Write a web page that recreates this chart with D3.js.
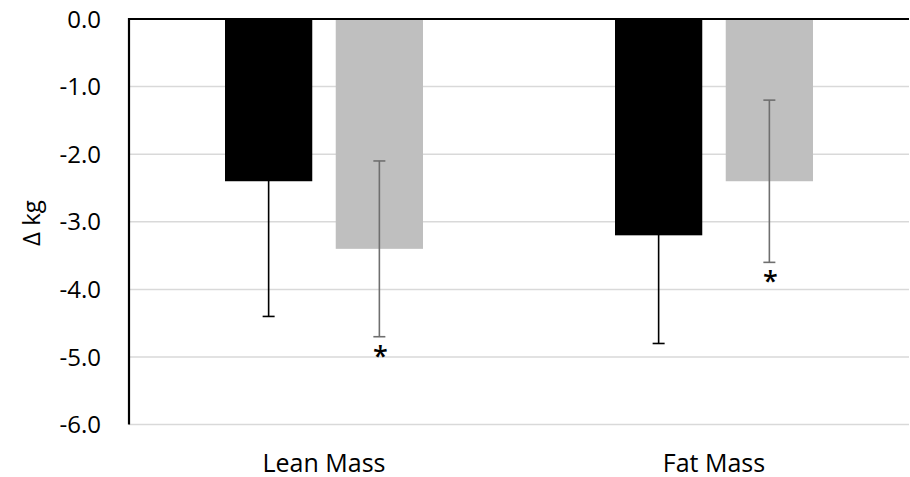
<!DOCTYPE html>
<html>
<head>
<meta charset="utf-8">
<script src="https://cdn.jsdelivr.net/npm/d3@7/dist/d3.min.js"></script>
<style>
  html, body { margin: 0; padding: 0; background: #fff; }
  svg { display: block; }
  text { font-family: "Open Sans", "Noto Sans", sans-serif; fill: #000; }
</style>
</head>
<body>
<svg id="chart" width="910" height="477"></svg>
<script>
// Change in body composition (kg) by group
const categories = ["Lean Mass", "Fat Mass"];
const seriesNames = ["Group A", "Group B"];
const groupAValues = [-2.4, -3.2];
const groupAErrors = [2.0, 1.6];
const groupBValues = [-3.4, -2.4];
const groupBErrors = [1.3, 1.2];
const groupBSignificant = [true, true];
const yTicks = [0, -1, -2, -3, -4, -5, -6];
const yLabel = "Δ kg";

const m = { left: 129, right: 909, top: 19, bottom: 424.6 };

const svg = d3.select("#chart");

const y = d3.scaleLinear().domain([-6, 0]).range([m.bottom, m.top]);
const x0 = d3.scaleBand().domain(categories).range([m.left, m.right]).padding(0);
const groupWidth = 198;
const x1 = d3.scaleBand().domain(seriesNames).range([0, groupWidth]).paddingInner(0.212).paddingOuter(0);
const groupOffset = (x0.bandwidth() - groupWidth) / 2;

const colors = { "Group A": "#000000", "Group B": "#bfbfbf" };
const errColors = { "Group A": "#000000", "Group B": "#6f6f6f" };

const rows = [];
categories.forEach((c, i) => {
  rows.push({ cat: c, s: "Group A", v: groupAValues[i], e: groupAErrors[i], sig: false });
  rows.push({ cat: c, s: "Group B", v: groupBValues[i], e: groupBErrors[i], sig: groupBSignificant[i] });
});
const bx = d => x0(d.cat) + groupOffset + x1(d.s);
const cx = d => bx(d) + x1.bandwidth() / 2;

// horizontal gridlines
svg.append("g")
  .selectAll("line")
  .data(yTicks.filter(t => t !== 0))
  .join("line")
  .attr("x1", m.left).attr("x2", m.right)
  .attr("y1", d => y(d)).attr("y2", d => y(d))
  .attr("stroke", "#d9d9d9").attr("stroke-width", 1.5);

// bars hang down from zero
svg.append("g")
  .selectAll("rect")
  .data(rows)
  .join("rect")
  .attr("x", bx)
  .attr("width", x1.bandwidth())
  .attr("y", y(0))
  .attr("height", d => y(d.v) - y(0))
  .attr("fill", d => colors[d.s]);

// error bars (± SD)
const eb = svg.append("g").selectAll("g").data(rows).join("g")
  .attr("stroke", d => errColors[d.s]).attr("stroke-width", 1.6);
eb.append("line")
  .attr("x1", cx).attr("x2", cx)
  .attr("y1", d => y(d.v + d.e)).attr("y2", d => y(d.v - d.e));
eb.append("line")
  .attr("x1", d => cx(d) - 6).attr("x2", d => cx(d) + 6)
  .attr("y1", d => y(d.v - d.e)).attr("y2", d => y(d.v - d.e));
eb.append("line")
  .attr("x1", d => cx(d) - 6).attr("x2", d => cx(d) + 6)
  .attr("y1", d => y(d.v + d.e)).attr("y2", d => y(d.v + d.e));

// significance markers
svg.append("g")
  .selectAll("text")
  .data(rows.filter(d => d.sig))
  .join("text")
  .attr("x", d => cx(d) + 1)
  .attr("y", d => y(d.v - d.e) + 29)
  .attr("text-anchor", "middle")
  .attr("font-size", 27)
  .attr("font-weight", 600)
  .text("*");

// axis lines: zero line on top, value axis on the left
svg.append("line")
  .attr("x1", m.left - 1).attr("x2", m.right)
  .attr("y1", y(0)).attr("y2", y(0))
  .attr("stroke", "#000").attr("stroke-width", 2.2);
svg.append("line")
  .attr("x1", m.left).attr("x2", m.left)
  .attr("y1", y(0) - 1).attr("y2", m.bottom)
  .attr("stroke", "#000").attr("stroke-width", 2.2);

// y tick labels
svg.append("g")
  .selectAll("text")
  .data(yTicks)
  .join("text")
  .attr("x", 101)
  .attr("y", d => y(d))
  .attr("dy", "0.36em")
  .attr("text-anchor", "end")
  .attr("font-size", 24)
  .text(d => d3.format(".1f")(d).replace("−", "-"));

// category labels
svg.append("g")
  .selectAll("text")
  .data(categories)
  .join("text")
  .attr("x", d => x0(d) + x0.bandwidth() / 2)
  .attr("y", 471.5)
  .attr("text-anchor", "middle")
  .attr("font-size", 25)
  .text(d => d);

// y axis title
svg.append("text")
  .attr("transform", "translate(40,223) rotate(-90)")
  .attr("text-anchor", "middle")
  .attr("font-size", 24)
  .text(yLabel);
</script>
</body>
</html>
